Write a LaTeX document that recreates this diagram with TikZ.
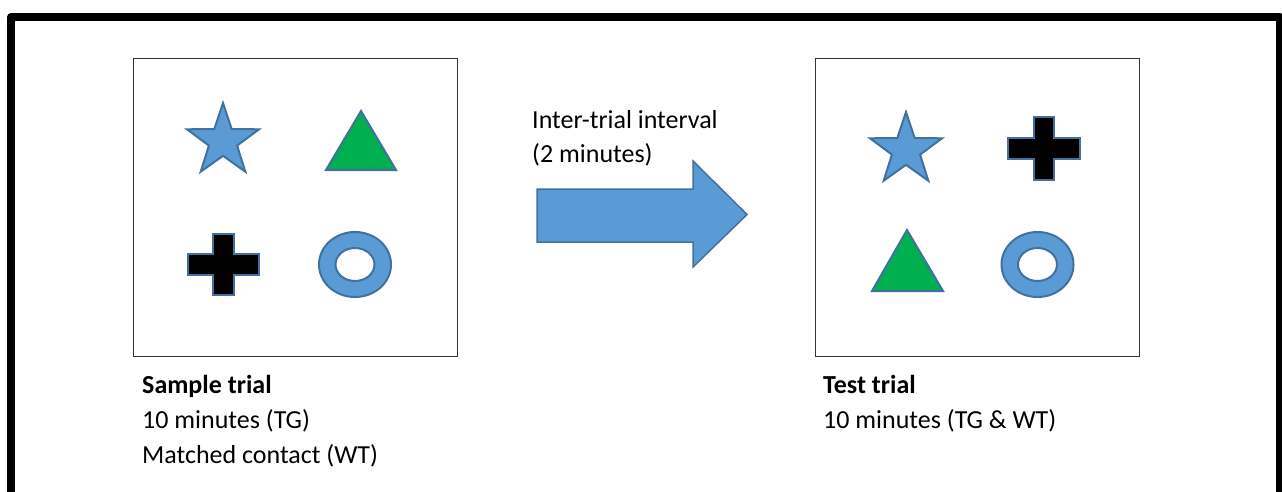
\documentclass[tikz,border=0pt]{standalone}
\usepackage{fontspec}
\setmainfont{Carlito}
\usetikzlibrary{calc}
\definecolor{shapeblue}{HTML}{5B9BD5}
\definecolor{edgeblue}{HTML}{41719C}
\definecolor{shapegreen}{HTML}{00B050}
\tikzset{
  panel/.style={draw=black!80, line width=1.4pt},
  frameline/.style={draw=black, line width=8pt, line join=round},
  obj/.style={draw=edgeblue, line width=2pt, line join=miter},
  starobj/.style={obj, fill=shapeblue},
  triobj/.style={obj, fill=shapegreen},
  crossobj/.style={obj, fill=black},
  ringobj/.style={obj, fill=shapeblue, even odd rule},
  bigarrow/.style={draw=edgeblue, line width=1.5pt, fill=shapeblue},
  label/.style={anchor=base west, inner sep=0pt, font=\fontsize{26}{34}\selectfont},
}
% five-pointed star centred at the current origin: outer and inner radius
\newcommand{\drawstar}[2]{%
  \draw[starobj] (-90:#1) \foreach \k in {1,...,5}{ -- (-126+72*\k:#2) -- (-90+72*\k:#1)} -- cycle;}
% plus sign centred at the origin: arm half-thickness, half-width, half-height
\newcommand{\drawcross}[3]{%
  \draw[crossobj] (-#1,-#3) -- (#1,-#3) -- (#1,-#1) -- (#2,-#1) -- (#2,#1) -- (#1,#1)
    -- (#1,#3) -- (-#1,#3) -- (-#1,#1) -- (-#2,#1) -- (-#2,-#1) -- (-#1,-#1) -- cycle;}
% ring centred at the origin
\newcommand{\drawring}{%
  \draw[ringobj] (0,0) ellipse [x radius=36, y radius=32.5] (0,0) ellipse [x radius=19.5, y radius=16.5];}
\begin{document}
\begin{tikzpicture}[x=1pt, y=-1pt]
  \useasboundingbox (0,0) rectangle (1282,491);
  \clip (0,0) rectangle (1282,491);
  \fill[white] (0,0) rectangle (1282,491);

  % outer frame (runs off the right and bottom edges)
  \draw[frameline] (11,520) -- (11,17) -- (1279.7,17) -- (1279.7,520);

  % trial panels
  \node[panel, minimum width=324pt, minimum height=298pt, inner sep=0pt, anchor=north west]
    (sample) at (133,58) {};
  \node[panel, minimum width=324pt, minimum height=298pt, inner sep=0pt, anchor=north west]
    (test) at (815,58) {};

  % sample trial objects
  \begin{scope}[shift={(223,141)}] \drawstar{37.9}{14.8} \end{scope}
  \draw[triobj] (361,111) -- (396,170) -- (326,170) -- cycle;
  \begin{scope}[shift={(223.5,264.5)}] \drawcross{10.3}{35.5}{30.5} \end{scope}
  \begin{scope}[shift={(355,264.5)}] \drawring \end{scope}

  % test trial objects
  \begin{scope}[shift={(906,150)}] \drawstar{37.9}{14.8} \end{scope}
  \begin{scope}[shift={(1044,148.5)}] \drawcross{10.3}{36}{31.5} \end{scope}
  \draw[triobj] (907,230) -- (943,291) -- (872,291) -- cycle;
  \begin{scope}[shift={(1037.5,264.5)}] \drawring \end{scope}

  % inter-trial arrow
  \draw[bigarrow] (537,189) -- (693,189) -- (693,161) -- (747,214.5) -- (693,267)
    -- (693,242) -- (537,242) -- cycle;

  % captions
  \node[label] (iti1) at (532,128) {Inter-trial interval};
  \node[label] (iti2) at (532,162) {(2 minutes)};
  \node[label] (s1) at (142,393) {\bfseries Sample trial};
  \node[label] (s2) at (142,428) {10 minutes (TG)};
  \node[label] (s3) at (142,463) {Matched contact (WT)};
  \node[label] (t1) at (823,393) {\bfseries Test trial};
  \node[label] (t2) at (823,428) {10 minutes (TG \& WT)};
\end{tikzpicture}
\end{document}
